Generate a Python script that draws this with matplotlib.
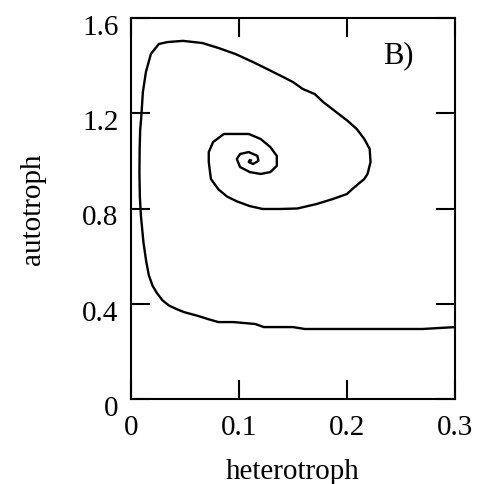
import matplotlib
matplotlib.use("Agg")
import matplotlib.pyplot as plt
import matplotlib.transforms as mtransforms

# Phase-plane trajectory: heterotroph (x) vs autotroph (y)
heterotroph = [0.300, 0.285, 0.270, 0.240, 0.200, 0.161, 0.150, 0.135, 0.123,
               0.115, 0.095, 0.081, 0.071, 0.062, 0.049, 0.042, 0.035, 0.029,
               0.024, 0.020, 0.0165, 0.014, 0.0115, 0.0092, 0.0082, 0.0078,
               0.0080, 0.0085, 0.0095, 0.011, 0.0138, 0.0184, 0.0258, 0.034,
               0.048, 0.066, 0.081, 0.0966, 0.113, 0.126, 0.141, 0.150, 0.159,
               0.170, 0.178, 0.190, 0.2006, 0.209, 0.216, 0.221, 0.2218, 0.219,
               0.216, 0.205, 0.200, 0.187, 0.172, 0.154, 0.138, 0.122, 0.110,
               0.098, 0.089, 0.081, 0.074, 0.072, 0.072, 0.076, 0.086, 0.098,
               0.109, 0.120, 0.129, 0.135, 0.135, 0.129, 0.120, 0.110, 0.101,
               0.098, 0.101, 0.109, 0.117, 0.118, 0.113, 0.109, 0.110, 0.112]
autotroph = [0.302, 0.298, 0.294, 0.294, 0.294, 0.294, 0.302, 0.302, 0.302,
             0.315, 0.323, 0.323, 0.336, 0.349, 0.365, 0.378, 0.393, 0.415,
             0.445, 0.475, 0.520, 0.580, 0.659, 0.769, 0.850, 0.950, 1.050,
             1.130, 1.184, 1.289, 1.373, 1.449, 1.491, 1.499, 1.504, 1.495,
             1.474, 1.449, 1.415, 1.386, 1.352, 1.331, 1.302, 1.281, 1.247,
             1.205, 1.168, 1.134, 1.092, 1.050, 0.995, 0.945, 0.924, 0.882,
             0.861, 0.840, 0.819, 0.800, 0.798, 0.798, 0.810, 0.830, 0.850,
             0.880, 0.924, 0.995, 1.037, 1.079, 1.113, 1.113, 1.113, 1.092,
             1.058, 1.021, 0.979, 0.953, 0.945, 0.953, 0.974, 1.008, 1.029,
             1.037, 1.021, 1.000, 0.987, 0.995, 1.004, 1.000]

x_ticks = [0, 0.1, 0.2, 0.3]
x_labels = ["0", "0.1", "0.2", "0.3"]
y_ticks = [0, 0.4, 0.8, 1.2, 1.6]
y_labels = ["0", "0.4", "0.8", "1.2", "1.6"]

plt.rcParams["font.family"] = ["Liberation Serif", "DejaVu Serif"]

fig = plt.figure(figsize=(4.79, 4.85), dpi=100)
ax = fig.add_axes([131 / 479, 1 - 400 / 485, 324 / 479, 381 / 485])

ax.plot(heterotroph, autotroph, color="black", linewidth=1.7,
        solid_joinstyle="round", solid_capstyle="butt")

ax.set_xlim(0, 0.3)
ax.set_ylim(0, 1.6)
ax.set_xticks(x_ticks)
ax.set_xticklabels(x_labels)
ax.set_yticks(y_ticks)
ax.set_yticklabels(y_labels)

ax.tick_params(axis="both", direction="in", length=13.7, width=1.5,
               top=True, right=True, labelsize=21)
ax.tick_params(axis="x", pad=11)
ax.tick_params(axis="y", pad=9)
for sp in ax.spines.values():
    sp.set_linewidth(1.5)

# nudge the y tick labels slightly below their ticks
shift = mtransforms.ScaledTranslation(0, -6 / 100, fig.dpi_scale_trans)
for lab in ax.get_yticklabels():
    lab.set_transform(lab.get_transform() + shift)

ax.set_xlabel("heterotroph", fontsize=21, labelpad=13)
ax.set_ylabel("autotroph", fontsize=21, labelpad=26)

ax.text(0.778, 0.885, "B)", transform=ax.transAxes, fontsize=22,
        ha="left", va="baseline")

fig.savefig("out.png", dpi=100)
